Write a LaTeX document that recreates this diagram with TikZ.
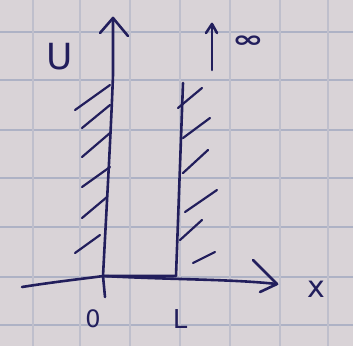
\documentclass[tikz,border=0pt]{standalone}
\usepackage{graphicx}
\usepackage{fontspec}
\setmainfont{DejaVu Sans}
\begin{document}
\begin{tikzpicture}[x=1pt,y=-1pt,
  ink/.style={draw=inkc,line width=2.6pt,line cap=round,line join=round},
  hatch/.style={draw=inkc,line width=2.2pt,line cap=round},
  gridh/.style={draw=gridc,line width=2pt},
  gridv/.style={draw=gridc!60!paper,line width=2pt},
  lbl/.style={text=inkc,inner sep=0pt}]
\definecolor{paper}{HTML}{D9D3D7}
\definecolor{gridc}{HTML}{AEB2C5}
\definecolor{inkc}{HTML}{221E5C}
\fill[paper] (0,0) rectangle (353,346);
\useasboundingbox (0,0) rectangle (353,346);
% graph paper
\foreach \y in {32,80,130,178,227,277,325} \draw[gridh] (0,\y) -- (353,\y);
\foreach \x in {33,80,130,180,230,280,328} \draw[gridv] (\x,0) -- (\x,346);
% coordinates
\coordinate (ybot) at (105,297);
\coordinate (yorig) at (103,276);
\coordinate (ymid) at (113,75);
\coordinate (ytop) at (113,18);
\coordinate (rbot) at (176,276);
\coordinate (rtop) at (183,83);
\coordinate (xstart) at (22,287);
\coordinate (xend) at (277,284);
% y axis and left wall
\draw[ink] (ybot) -- (yorig) .. controls (107,200) and (111,130) .. (ymid) -- (ytop);
\draw[ink] (100,33) -- (ytop) -- (128,36);
% well bottom and right wall
\draw[ink] (yorig) -- (rbot) -- (rtop);
% x axis
\draw[ink] (xstart) .. controls (60,281) and (90,278) .. (yorig) .. controls (180,280) and (230,279) .. (xend);
\draw[ink] (253,260) -- (xend) -- (260,292);
% left hatching
\draw[hatch] (75,110) -- (110,85);
\draw[hatch] (82,128) -- (110,105);
\draw[hatch] (82,157) -- (110,133);
\draw[hatch] (82,187) -- (110,167);
\draw[hatch] (82,218) -- (107,197);
\draw[hatch] (75,253) -- (100,235);
% right hatching
\draw[hatch] (178,108) -- (202,88);
\draw[hatch] (183,138) -- (210,118);
\draw[hatch] (183,173) -- (208,150);
\draw[hatch] (185,212) -- (217,190);
\draw[hatch] (180,240) -- (202,220);
\draw[hatch] (193,263) -- (215,252);
% infinity marker
\coordinate (ibot) at (212,70);
\coordinate (itop) at (212,24);
\draw[ink] (ibot) -- (itop);
\draw[ink] (206,33) -- (itop) -- (217,33);
\node[lbl,font=\fontsize{20}{20}\selectfont\bfseries] (inf) at (248,42) {\scalebox{1.9}[1.15]{∞}};
% labels
\node[lbl,font=\fontsize{36}{36}\selectfont] (U) at (60,57) {U};
\node[lbl,font=\fontsize{30}{30}\selectfont] (X) at (316,289) {x};
\node[lbl,font=\fontsize{24}{24}\selectfont] (O) at (93,319) {0};
\node[lbl,font=\fontsize{26}{26}\selectfont] (L) at (180,319) {L};
\end{tikzpicture}
\end{document}
